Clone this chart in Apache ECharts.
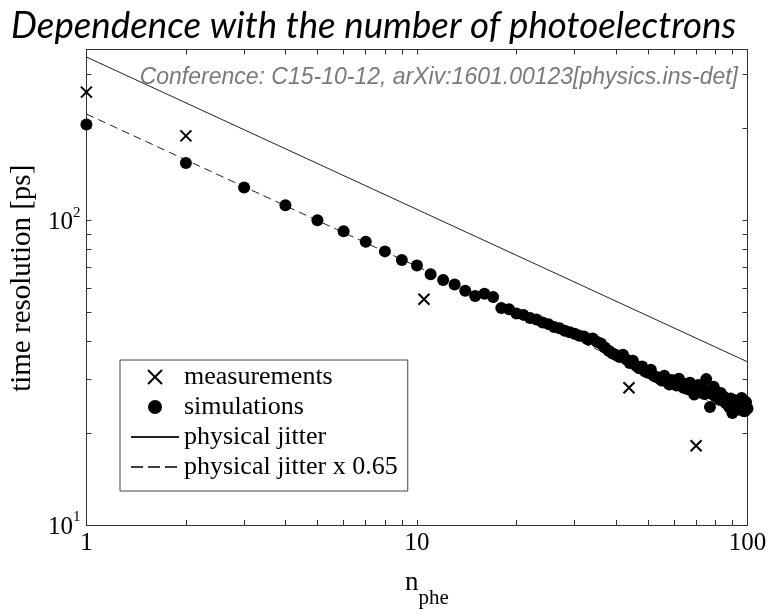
<!DOCTYPE html>
<html>
<head>
<meta charset="utf-8">
<script src="https://cdn.jsdelivr.net/npm/echarts@6/dist/echarts.min.js"></script>
<style>
html,body{margin:0;padding:0;background:#fff;}
#chart{width:775px;height:614px;}
</style>
</head>
<body>
<div id="chart"></div>
<script>
// ---- data ----
const simN = [1,2,3,4,5,6,7,8,9,10,11,12,13,14,15,16,17,18,19,20,21,22,23,24,25,26,27,28,29,30,31,32,33,34,35,36,37,38,39,40,41,42,43,44,45,46,47,48,49,50,51,52,53,54,55,56,57,58,59,60,61,62,63,64,65,66,67,68,69,70,71,72,73,74,75,76,77,78,79,80,81,82,83,84,85,86,87,88,89,90,91,92,93,94,95,96,97,98,99,100];
const simVals = [206,154,128,112,100,92,85,79,74,71,66.5,63.6,61.5,58.7,56.4,57.4,56,51.5,51,49.4,48.9,47.8,47.2,46.2,45.6,44.6,44.2,43.4,42.9,42.4,41.8,41.5,40.6,40.9,39.9,39.4,38.2,37.3,36.6,36.1,35.6,36.2,34.9,34.0,34.6,33.3,32.7,33.1,31.9,31.6,32.3,30.9,30.6,30.3,29.8,30.9,29.5,28.9,29.9,29.2,28.7,30.2,28.9,28.2,29.0,27.9,29.3,27.6,26.8,28.2,28.8,27.3,27.9,26.9,30.1,27.6,24.4,26.9,28.4,26.4,27.3,25.9,27.1,25.6,26.3,25.1,25.9,24.4,26.0,23.3,24.8,25.6,23.9,25.1,24.2,26.1,24.6,23.6,25.3,24.1];
const measN = [1, 2, 10.5, 43.8, 69.9];
const measVals = [263, 189, 55, 28.2, 18.2];
const jitterN = [1, 100];
const jitterVals = [343, 34.3];
const jitter065Vals = [223, 22.3];
const xTicks = [1,2,3,4,5,6,7,8,9,10,20,30,40,50,60,70,80,90,100];
const xTickLabels = [1,10,100];
const yTicks = [10,20,30,40,50,60,70,80,90,100,200,300];
const yTickLabels = [10,100];
const seriesNames = ['measurements','simulations','physical jitter','physical jitter x 0.65'];

const zip = (a,b) => a.map((v,i)=>[v,b[i]]);
const serif = 'Liberation Serif';
const axisCol = '#333';

const chart = echarts.init(document.getElementById('chart'), null, {renderer:'canvas'});
const baseX = {
  type:'log', logBase:10, min:1, max:100,
  axisLine:{show:true, onZero:false, lineStyle:{color:axisCol, width:1}},
  splitLine:{show:false}, minorTick:{show:false}
};
const baseY = {
  type:'log', logBase:10, min:10, max:363,
  axisLine:{show:true, onZero:false, lineStyle:{color:axisCol, width:1}},
  splitLine:{show:false}, minorTick:{show:false}
};
const hiddenSym = {color:'rgba(0,0,0,0)', borderColor:'rgba(0,0,0,0)', borderWidth:0};
chart.setOption({
  backgroundColor:'#fff',
  animation:false,
  title:[
    {text:'Dependence with the number of photoelectrons', left:6, top:3,
     textStyle:{fontFamily:'Lato', fontStyle:'italic', fontWeight:'normal', fontSize:36.7, color:'#000'}},
    {text:'Conference: C15-10-12, arXiv:1601.00123[physics.ins-det]', right:32, top:61,
     textStyle:{fontFamily:'Liberation Sans', fontStyle:'italic', fontWeight:'normal', fontSize:23, color:'#7a7a7a'}}
  ],
  grid:{left:82.5, right:27.5, top:49.5, bottom:80, containLabel:false},
  legend:{
    orient:'vertical', left:120, top:360,
    data:[
      {name:seriesNames[0]},
      {name:seriesNames[1]},
      {name:seriesNames[2], itemStyle:hiddenSym},
      {name:seriesNames[3], itemStyle:hiddenSym, lineStyle:{type:[12,5], color:'#000', width:1.3, opacity:1}}
    ],
    backgroundColor:'#fff', borderColor:'#444', borderWidth:1,
    padding:[4,10,11,10], itemGap:4, itemWidth:48, itemHeight:14,
    textStyle:{fontFamily:serif, fontSize:26, color:'#000'}
  },
  xAxis:[
    Object.assign({}, baseX, {
      position:'bottom',
      name:'{n|n}{s|phe}', nameLocation:'middle', nameGap:44,
      nameTextStyle:{padding:[0,0,0,20], rich:{
        n:{fontFamily:serif, fontSize:27, color:'#000', verticalAlign:'top', lineHeight:40},
        s:{fontFamily:serif, fontSize:21, color:'#000', verticalAlign:'bottom', lineHeight:40}
      }},
      axisTick:{show:true, inside:true, length:5, customValues:xTicks, lineStyle:{color:axisCol}},
      axisLabel:{show:true, customValues:xTickLabels, margin:6, fontFamily:serif, fontSize:25, color:'#000',
        formatter:(v)=>String(Math.round(v))}
    }),
    Object.assign({}, baseX, {
      position:'top',
      axisTick:{show:true, inside:true, length:5, customValues:xTicks, lineStyle:{color:axisCol}},
      axisLabel:{show:false}
    })
  ],
  yAxis:[
    Object.assign({}, baseY, {
      position:'left',
      name:'time resolution [ps]', nameLocation:'middle', nameGap:44, nameRotate:90,
      nameTextStyle:{fontFamily:serif, fontSize:29, color:'#000', padding:[0,0,0,18]},
      axisTick:{show:true, inside:true, length:5, customValues:yTicks, lineStyle:{color:axisCol}},
      axisLabel:{show:true, customValues:yTickLabels, margin:6,
        formatter:(v)=>'{b|10}{s|' + Math.round(Math.log10(v)) + '}',
        rich:{
          b:{fontFamily:serif, fontSize:25, color:'#000', verticalAlign:'bottom', lineHeight:30},
          s:{fontFamily:serif, fontSize:15, color:'#000', verticalAlign:'top', lineHeight:30}
        }}
    }),
    Object.assign({}, baseY, {
      position:'right',
      axisTick:{show:true, inside:true, length:5, customValues:yTicks, lineStyle:{color:axisCol}},
      axisLabel:{show:false}
    })
  ],
  series:[
    {name:seriesNames[0], type:'scatter', data:zip(measN, measVals), z:5,
     symbol:'path://M0,0L10,10M10,0L0,10', symbolSize:11,
     itemStyle:{color:'rgba(0,0,0,0)', borderColor:'#000', borderWidth:2, opacity:1}},
    {name:seriesNames[1], type:'scatter', data:zip(simN, simVals), z:4,
     symbol:'circle', symbolSize:12, itemStyle:{color:'#000', opacity:1}},
    {name:seriesNames[2], type:'line', data:zip(jitterN, jitterVals), symbol:'none', z:3,
     itemStyle:{color:'#222'}, lineStyle:{color:'#222', width:1, type:'solid'}},
    {name:seriesNames[3], type:'line', data:zip(jitterN, jitter065Vals), symbol:'none', z:3,
     itemStyle:{color:'#222'}, lineStyle:{color:'#222', width:1, type:[8,5]}}
  ]
});
</script>
</body>
</html>
